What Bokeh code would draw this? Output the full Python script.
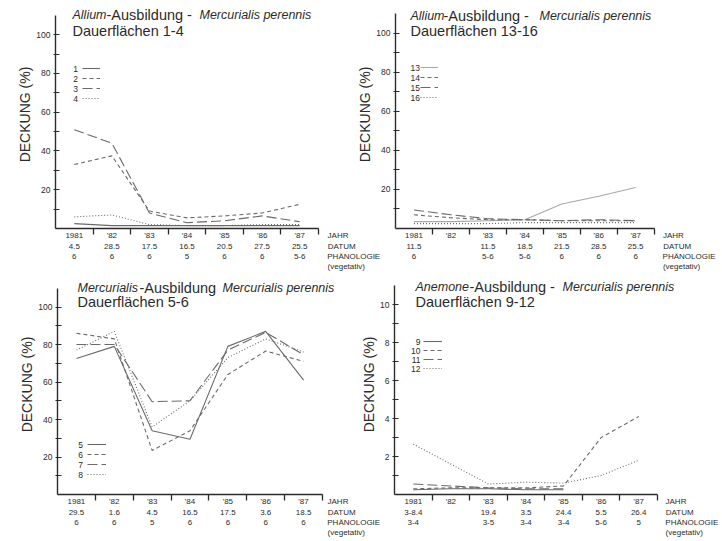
import math
from bokeh.plotting import figure
from bokeh.models import Range1d, FixedTicker, LinearAxis, Label, Legend, LegendItem
from bokeh.layouts import row, column
from bokeh.embed import file_html
from bokeh.resources import INLINE

# ---------------- data ----------------
years = ["1981", "'82", "'83", "'84", "'85", "'86", "'87"]
x_pos = [1, 2, 3, 4, 5, 6, 7]

# Allium - Dauerflaechen 1-4
dates_1_4 = ["4.5", "28.5", "17.5", "16.5", "20.5", "27.5", "25.5"]
phen_1_4 = ["6", "6", "6", "5", "6", "6", "5-6"]
s1 = [2.5, 1.5, 1.5, 1.5, 1.5, 1.5, 1.5]
s2 = [33, 37.5, 9, 5.5, 6.5, 8, 12.5]
s3 = [51, 44, 8, 3, 4, 6.5, 3.5]
s4 = [6, 7, 2, 1.5, 1.5, 2, 2]

# Allium - Dauerflaechen 13-16
dates_13_16 = ["11.5", "", "11.5", "18.5", "21.5", "28.5", "25.5"]
phen_13_16 = ["6", "", "5-6", "5-6", "6", "6", "6"]
s13 = [3.5, 3.5, 4, 4.5, 12.5, 16.5, 21]
s14 = [7, 5.5, 4.5, 4.5, 4, 4, 4]
s15 = [9.5, 7, 5, 4.5, 4, 4.5, 4]
s16 = [2.5, 2.5, 2.5, 3, 3, 3, 3]

# Mercurialis - Dauerflaechen 5-8
dates_5_8 = ["29.5", "1.6", "4.5", "16.5", "17.5", "3.6", "18.5"]
phen_5_8 = ["6", "6", "5", "6", "6", "6", "6"]
s5 = [72.5, 79, 34, 29.5, 79, 87, 61]
s6 = [86, 83, 23.5, 34, 64, 76.5, 71]
s7 = [80, 80, 49.5, 50, 77, 86.5, 74.5]
s8 = [77, 87, 36, 50, 73, 83, 76]

# Anemone - Dauerflaechen 9-12
dates_9_12 = ["3-8.4", "", "19.4", "3.5", "24.4", "5.5", "26.4"]
phen_9_12 = ["3-4", "", "3-5", "3-4", "3-4", "5-6", "5"]
s9 = [0.25, 0.3, 0.3, 0.25, 0.25, None, None]
s10 = [0.3, 0.35, 0.35, 0.35, 0.45, 3.0, 4.1]
s11 = [0.55, 0.45, 0.35, 0.3, 0.3, None, None]
s12 = [2.65, None, 0.55, 0.65, 0.6, 1.0, 1.8]

row_labels = ["JAHR", "DATUM", "PHÄNOLOGIE", "(vegetativ)"]
row_label_w = [21, 28.5, 52.5, 37.5]   # approx. text widths (px) for centring
y_label = "DECKUNG (%)"

# ---------------- style ----------------
FONT = "Liberation Sans"
INK = "#2b2b2b"
LINE = "#6a6a6a"
DASHES = ["solid", "4 3", "10 4", "1 2"]
XFS = "8px"
ROW_STANDOFF = [-4, -1, -2, -2]
NORMAL_TITLE = 14.5


def lab(p, L, B, cx, cy, text, size, style="normal", align="left", baseline="middle", color=INK):
    p.add_layout(Label(x=cx - L, y=B - cy, x_units="screen", y_units="screen",
                       text=text, text_font=FONT, text_font_size=f"{size}px",
                       text_font_style=style, text_align=align, text_baseline=baseline,
                       text_color=color))


def plain_axis(ticks, labels, standoff):
    return LinearAxis(ticker=FixedTicker(ticks=ticks),
                      major_label_overrides={x: t for x, t in zip(ticks, labels)},
                      axis_line_color=None, major_tick_line_color=None,
                      minor_tick_line_color=None, major_tick_in=0, major_tick_out=0,
                      minor_tick_in=0, minor_tick_out=0, major_label_standoff=standoff,
                      major_label_text_font=FONT, major_label_text_font_size=XFS,
                      major_label_text_color=INK)


def make_panel(cfg):
    w, h, L, R, T, B = cfg["w"], cfg["h"], cfg["L"], cfg["R"], cfg["T"], cfg["B"]
    ytop = cfg["ymax"]
    ppx = (R - L) / 7.0
    x_end = 7.5 + (w - R) / ppx
    y_end = ytop * B / (B - T)
    p = figure(width=w, height=h, x_range=Range1d(0.5, x_end), y_range=Range1d(0, y_end),
               output_backend="svg", toolbar_location=None,
               min_border_left=L, min_border_right=0, min_border_top=0, min_border_bottom=h - B)
    p.outline_line_color = None
    p.grid.visible = False
    p.background_fill_alpha = 0
    p.border_fill_alpha = 0
    if "css" in cfg:
        p.styles = cfg["css"]

    # y axis
    ya = p.yaxis[0]
    ya.bounds = (0, ytop)
    ya.ticker = FixedTicker(ticks=cfg["yt"], minor_ticks=cfg["ym"])
    ya.axis_line_color = INK
    ya.axis_line_width = 1.4
    ya.major_tick_line_color = INK
    ya.minor_tick_line_color = INK
    ya.major_tick_in = 4
    ya.major_tick_out = 2
    ya.minor_tick_in = 4
    ya.minor_tick_out = 2
    ya.major_label_standoff = 3
    ya.major_label_text_font = FONT
    ya.major_label_text_font_size = "8.5px"
    ya.major_label_text_color = INK
    ya.axis_label = y_label
    ya.axis_label_standoff = 0
    ya.axis_label_text_font = FONT
    ya.axis_label_text_font_size = "14px"
    ya.axis_label_text_font_style = "normal"
    ya.axis_label_text_color = INK

    # x axis line with boundary ticks (labels empty)
    xa = p.xaxis[0]
    xa.bounds = (0.5, 7.5)
    xa.ticker = FixedTicker(ticks=[i + 0.5 for i in range(1, 8)])
    xa.major_label_overrides = {i + 0.5: "" for i in range(1, 8)}
    xa.axis_line_color = INK
    xa.axis_line_width = 1.4
    xa.major_tick_line_color = INK
    xa.major_tick_line_width = 1.3
    xa.major_tick_in = 0
    xa.major_tick_out = 6
    xa.minor_tick_line_color = None
    xa.minor_tick_in = 0
    xa.minor_tick_out = 0
    xa.major_label_standoff = 0
    xa.major_label_text_font = FONT
    xa.major_label_text_font_size = "2px"

    # label rows, each with its caption at the right end
    rows = [years, cfg["dates"], cfg["phen"], [""] * 7]
    cap_left = cfg["cap_x"]
    for k, (vals, cap, cw) in enumerate(zip(rows, row_labels, row_label_w)):
        cx = round(7.5 + (cap_left + cw / 2 - R) / ppx, 3)
        ticks = x_pos + [cx]
        labels = list(vals) + [cap]
        p.add_layout(plain_axis(ticks, labels, ROW_STANDOFF[k]), "below")

    # series
    items = []
    for i, vals in enumerate(cfg["series"]):
        xs = [x for x, v in zip(x_pos, vals) if v is not None]
        ys = [v for v in vals if v is not None]
        r = p.line(xs, ys, line_color=cfg["colors"][i], line_width=1.1, line_dash=DASHES[i])
        items.append(LegendItem(label=" ", renderers=[r]))

    # legend keys; numbers as labels to the left
    lg = cfg["legend"]
    pitch = lg["pitch"]
    gh = 8
    bottom = lg["rows0"] + (len(items) - 1) * pitch + gh / 2
    legend = Legend(items=items, location=(lg["x0"] - L, B - bottom), orientation="vertical",
                    glyph_width=lg["x1"] - lg["x0"], glyph_height=gh, spacing=pitch - gh,
                    padding=0, margin=0, label_standoff=0, label_width=0, label_height=gh,
                    label_text_font_size="1px", border_line_color=None,
                    background_fill_alpha=0)
    p.add_layout(legend)
    for k, name in enumerate(cfg["names"]):
        lab(p, L, B, lg["nx"], lg["rows0"] + k * pitch, name, 8.5, align=lg["nalign"])

    # two-line heading (centres of the lines)
    c1, c2 = cfg["title_mid"]
    for text, cx, style in cfg["title1"]:
        size = 12.5 if style == "italic" else NORMAL_TITLE
        lab(p, L, B, cx, c1, text, size, style=style)
    lab(p, L, B, cfg["title2"][1], c2, cfg["title2"][0], NORMAL_TITLE)
    return p


cfg1 = dict(w=380, h=274, L=55, R=318, T=15, B=230, ymax=110,
            yt=[20, 40, 60, 80, 100], ym=[10, 30, 50, 70, 90],
            series=[s1, s2, s3, s4], names=["1", "2", "3", "4"], colors=[LINE] * 4,
            dates=dates_1_4, phen=phen_1_4,
            title1=[("Allium", 72, "italic"), ("-Ausbildung - ", 106, "normal"),
                    ("Mercurialis perennis", 199, "italic")],
            title2=("Dauerflächen 1-4", 72), title_mid=(16, 32),
            legend=dict(x0=82, x1=100, rows0=70, pitch=10, nx=75, nalign="center"),
            cap_x=327)

cfg2 = dict(w=368, h=274, L=38, R=299, T=13, B=228, ymax=110,
            yt=[20, 40, 60, 80, 100], ym=[10, 30, 50, 70, 90],
            series=[s13, s14, s15, s16], names=["13", "14", "15", "16"],
            colors=["#a8a8a8", LINE, LINE, LINE],
            dates=dates_13_16, phen=phen_13_16,
            title1=[("Allium", 53, "italic"), ("-Ausbildung - ", 86, "normal"),
                    ("Mercurialis perennis", 182, "italic")],
            title2=("Dauerflächen 13-16", 53), title_mid=(15, 30),
            legend=dict(x0=63, x1=81, rows0=67, pitch=10, nx=53, nalign="left"),
            cap_x=308, css={"margin-left": "-26px"})

cfg3 = dict(w=380, h=267, L=57, R=322, T=14, B=224, ymax=110,
            yt=[20, 40, 60, 80, 100], ym=[10, 30, 50, 70, 90],
            series=[s5, s6, s7, s8], names=["5", "6", "7", "8"], colors=[LINE] * 4,
            dates=dates_5_8, phen=phen_5_8,
            title1=[("Mercurialis", 77, "italic"), ("-Ausbildung", 139, "normal"),
                    ("Mercurialis perennis", 222, "italic")],
            title2=("Dauerflächen 5-6", 77), title_mid=(17, 31),
            legend=dict(x0=87, x1=106, rows0=174, pitch=10, nx=80, nalign="center"),
            cap_x=327)

cfg4 = dict(w=368, h=267, L=40, R=303, T=11, B=220, ymax=11,
            yt=[2, 4, 6, 8, 10], ym=[1, 3, 5, 7, 9],
            series=[s9, s10, s11, s12], names=["9", "10", "11", "12"], colors=[LINE] * 4,
            dates=dates_9_12, phen=phen_9_12,
            title1=[("Anemone", 61, "italic"), ("-Ausbildung - ", 115, "normal"),
                    ("Mercurialis perennis", 208, "italic")],
            title2=("Dauerflächen 9-12", 61), title_mid=(12, 27),
            legend=dict(x0=69, x1=88, rows0=67, pitch=9, nx=66, nalign="right"),
            cap_x=311, css={"margin-left": "-26px"})

p1 = make_panel(cfg1)
p2 = make_panel(cfg2)
p3 = make_panel(cfg3)
p4 = make_panel(cfg4)

layout = column(row(p1, p2, spacing=0), row(p3, p4, spacing=0), spacing=0,
                styles={"background-color": "white"})
open("out.html", "w").write(file_html(layout, INLINE))
